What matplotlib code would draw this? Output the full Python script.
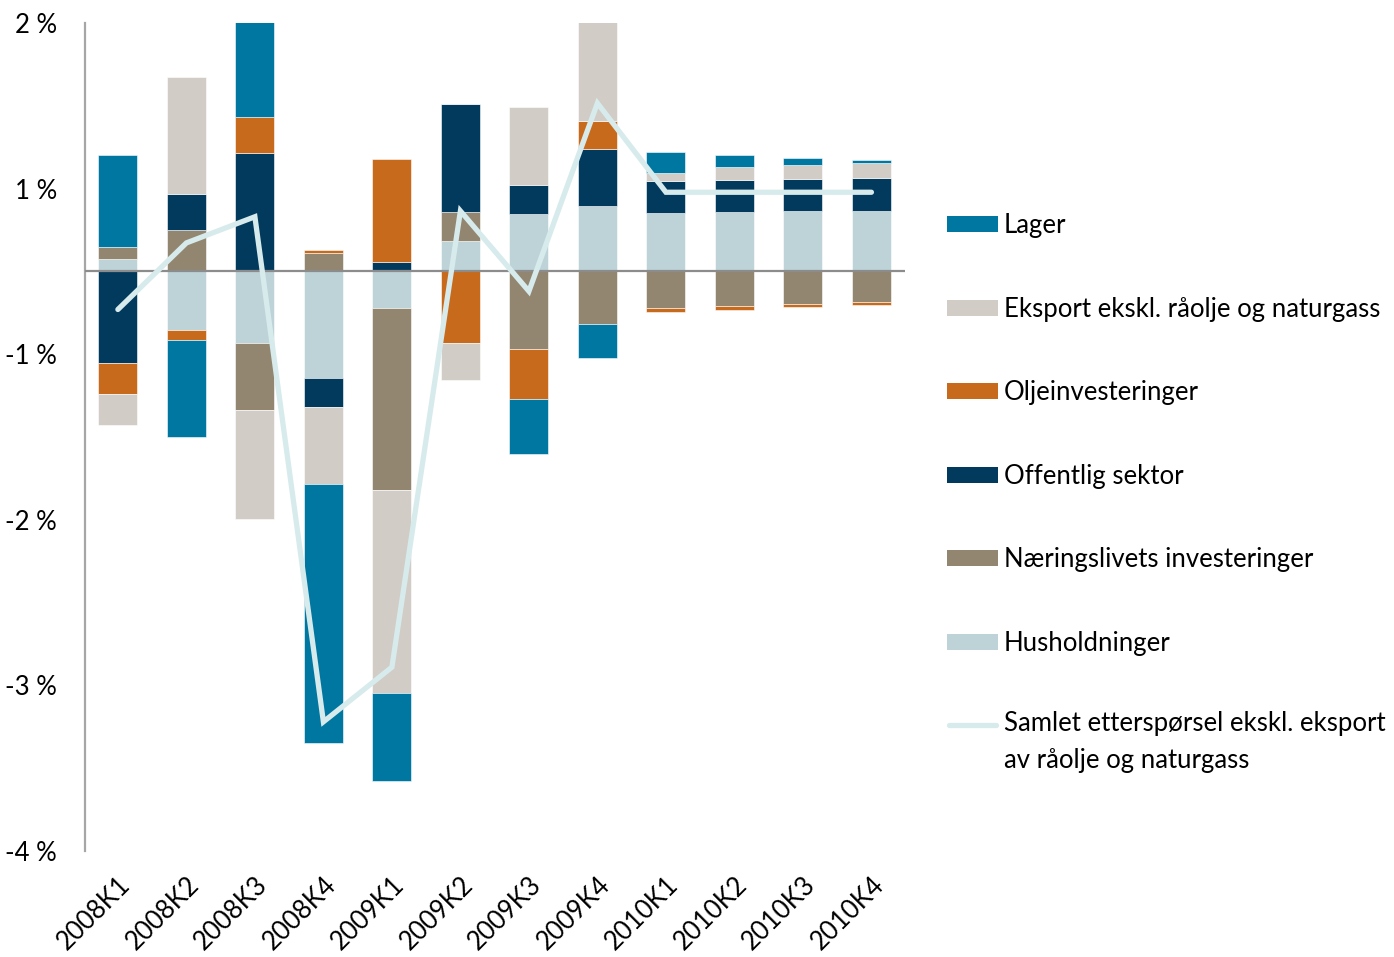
import matplotlib
matplotlib.use("Agg")
import matplotlib.pyplot as plt
import numpy as np
from matplotlib.patches import Rectangle
from matplotlib.lines import Line2D

plt.rcParams["font.family"] = ["Lato", "DejaVu Sans"]

# Kvartaler
kvartaler = ["2008K1", "2008K2", "2008K3", "2008K4",
             "2009K1", "2009K2", "2009K3", "2009K4",
             "2010K1", "2010K2", "2010K3", "2010K4"]

# Bidrag i prosentpoeng (lest av figuren)
husholdninger = [0.074, -0.353, -0.435, -0.641, -0.222, 0.186, 0.345, 0.396, 0.355, 0.361, 0.364, 0.367]
naeringsliv = [0.076, 0.249, -0.400, 0.110, -1.097, 0.174, -0.470, -0.317, -0.222, -0.207, -0.195, -0.186]
offentlig = [-0.555, 0.221, 0.715, -0.177, 0.059, 0.653, 0.177, 0.346, 0.191, 0.191, 0.193, 0.196]
olje = [-0.185, -0.060, 0.220, 0.022, 0.620, -0.434, -0.302, 0.169, -0.024, -0.024, -0.020, -0.016]
eksport = [-0.190, 0.703, -0.658, -0.465, -1.228, -0.224, 0.469, 0.629, 0.046, 0.077, 0.088, 0.091]
lager = [0.550, -0.588, 0.885, -1.565, -0.530, 0.0, -0.330, -0.207, 0.127, 0.074, 0.042, 0.020]
samlet = [-0.23, 0.172, 0.33, -2.72, -2.39, 0.365, -0.12, 1.016, 0.478, 0.478, 0.478, 0.478]

# Aksemerker (Excel runder 1,5 -> 2 %, 0,5 -> 1 % osv.)
ytick_pos = [1.5, 0.5, -0.5, -1.5, -2.5, -3.5]
ytick_lab = ["2 %", "1 %", "-1 %", "-2 %", "-3 %", "-4 %"]

serier = [
    ("Husholdninger", husholdninger, "#BDD3D7"),
    ("Næringslivets investeringer", naeringsliv, "#928670"),
    ("Offentlig sektor", offentlig, "#023A5E"),
    ("Oljeinvesteringer", olje, "#C86A1C"),
    ("Eksport ekskl. råolje og naturgass", eksport, "#D1CCC5"),
    ("Lager", lager, "#0077A1"),
]
linjefarge = "#D7EBED"
linjenavn = "Samlet etterspørsel ekskl. eksport\nav råolje og naturgass"

FS = 18.5
W, H = 1394, 957
fig = plt.figure(figsize=(W / 100, H / 100), dpi=100)
ax = fig.add_axes([85 / W, 1 - 851 / H, (905 - 85) / W, (851 - 23) / H])

x = np.arange(len(kvartaler))
pos_base = np.zeros(len(x))
neg_base = np.zeros(len(x))
for navn, vals, farge in serier:
    v = np.array(vals)
    base = np.where(v >= 0, pos_base, neg_base)
    ax.bar(x, v, 0.57, bottom=base, color=farge, edgecolor="white", linewidth=0.4, zorder=2)
    pos_base += np.where(v >= 0, v, 0)
    neg_base += np.where(v < 0, v, 0)

ax.plot(x, samlet, color=linjefarge, linewidth=3.8, solid_capstyle="round",
        solid_joinstyle="miter", zorder=4)

ax.axhline(0, color="#8C8C8C", linewidth=1.6, zorder=3)

ax.set_xlim(-0.48, 11.49)
ax.set_ylim(-3.5, 1.5)
ax.set_yticks(ytick_pos)
ax.set_yticklabels(ytick_lab, fontsize=FS)
ax.set_xticks(x)
ax.set_xticklabels(kvartaler, fontsize=FS, rotation=45, ha="right", va="top",
                   rotation_mode="anchor")
ax.tick_params(axis="y", length=0, pad=20)
ax.tick_params(axis="x", length=0, pad=15)
for s in ["top", "right", "bottom"]:
    ax.spines[s].set_visible(False)
ax.spines["left"].set_color("#A6A6A6")
ax.spines["left"].set_linewidth(1.6)

# Forklaring til høyre
legend_y = [224, 308, 391, 475, 558, 642]
for (navn, vals, farge), yy in zip(reversed(serier), legend_y):
    fig.add_artist(Rectangle((947 / W, 1 - (yy + 8) / H), 51 / W, 16 / H,
                             facecolor=farge, edgecolor="none", transform=fig.transFigure))
    fig.text(1004 / W, 1 - (yy + 1) / H, navn, fontsize=FS, va="center", ha="left")
fig.add_artist(Line2D([949 / W, 996 / W], [1 - 725 / H, 1 - 725 / H], color=linjefarge,
                      linewidth=3.8, solid_capstyle="round", transform=fig.transFigure))
fig.text(1004 / W, 1 - 711 / H, linjenavn, fontsize=FS, va="top", ha="left", linespacing=1.6)

fig.savefig("out.png", dpi=100)
